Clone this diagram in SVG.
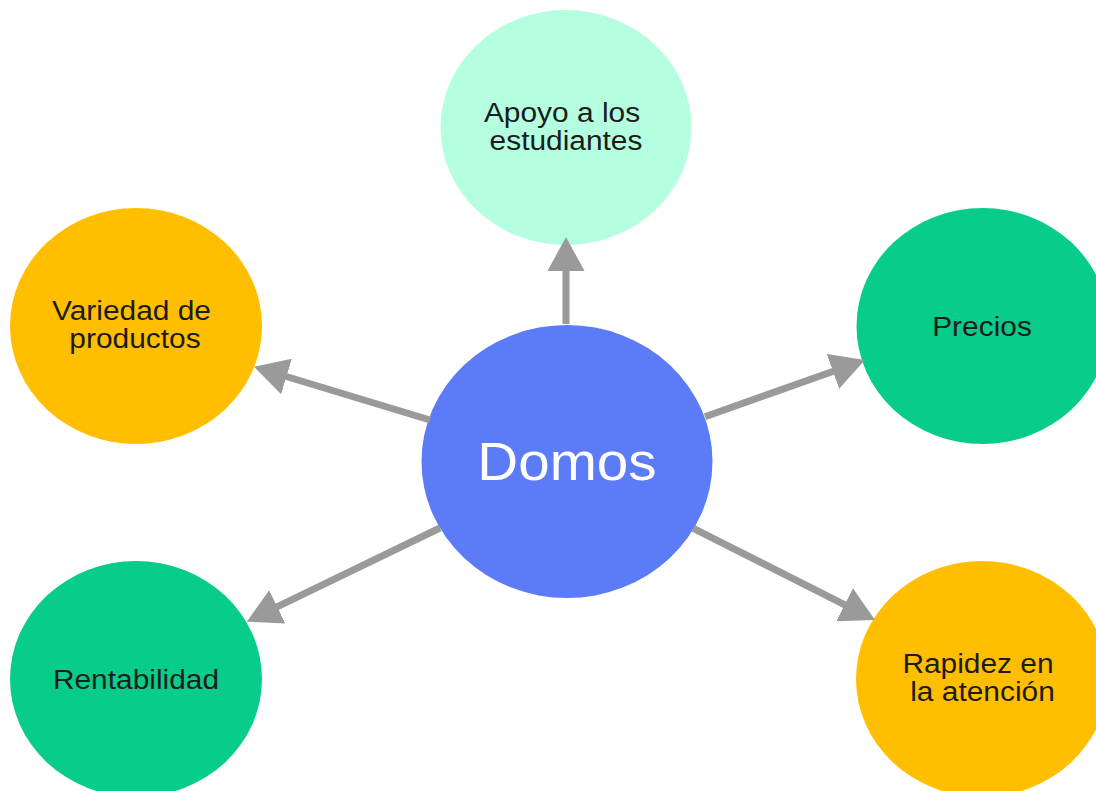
<svg xmlns="http://www.w3.org/2000/svg" width="1096" height="791" viewBox="0 0 1096 791">
<style>
  .lbl { font-family: "Liberation Sans", Arial, sans-serif; font-size: 28px; fill: #1c1c1c; text-anchor: middle; }
  .main { font-family: "Liberation Sans", Arial, sans-serif; font-size: 53px; fill: #ffffff; text-anchor: middle; }
  .conn { stroke: #9a9a9a; stroke-width: 7; fill: none; marker-end: url(#arrow); }
</style>
<defs>
  <marker id="arrow" markerUnits="userSpaceOnUse" viewBox="0 0 34 37" markerWidth="34" markerHeight="37" refX="2" refY="18.5" orient="auto">
    <path d="M0,0 L34,18.5 L0,37 Z" fill="#9a9a9a"/>
  </marker>
</defs>
<rect width="1096" height="791" fill="#ffffff"/>
<g id="node-domos">
  <ellipse cx="567" cy="461.5" rx="145.5" ry="136.5" fill="#5b7bf7"/>
  <text class="main" transform="translate(567 480) scale(1.068 1)">Domos</text>
</g>
<g id="node-apoyo">
  <ellipse cx="566" cy="127.5" rx="125.5" ry="117.5" fill="#b3ffdf"/>
  <text class="lbl" transform="translate(562 121.5) scale(1.068 1)">Apoyo a los</text>
  <text class="lbl" transform="translate(566 150) scale(1.068 1)">estudiantes</text>
</g>
<g id="node-variedad">
  <ellipse cx="136" cy="326" rx="126" ry="118" fill="#ffbf00"/>
  <text class="lbl" transform="translate(131.5 319.5) scale(1.068 1)">Variedad de</text>
  <text class="lbl" transform="translate(135 348) scale(1.068 1)">productos</text>
</g>
<g id="node-precios">
  <ellipse cx="982.5" cy="326" rx="126" ry="118" fill="#08cc8a"/>
  <text class="lbl" transform="translate(982 335.5) scale(1.068 1)">Precios</text>
</g>
<g id="node-rentabilidad">
  <ellipse cx="136" cy="679" rx="126" ry="118" fill="#08cc8a"/>
  <text class="lbl" transform="translate(136 688.5) scale(1.068 1)">Rentabilidad</text>
</g>
<g id="node-rapidez">
  <ellipse cx="982" cy="679" rx="126" ry="118" fill="#ffbf00"/>
  <text class="lbl" transform="translate(978 672.5) scale(1.068 1)">Rapidez en</text>
  <text class="lbl" transform="translate(982.5 701) scale(1.068 1)">la atención</text>
</g>
<g id="connectors">
  <line class="conn" x1="566" y1="324" x2="566" y2="269"/>
  <line class="conn" x1="430" y1="420" x2="284.6" y2="376"/>
  <line class="conn" x1="705" y1="416.7" x2="834.8" y2="370.7"/>
  <line class="conn" x1="440" y1="528" x2="275.5" y2="607.7"/>
  <line class="conn" x1="693.3" y1="528.3" x2="846.4" y2="605.6"/>
</g>
</svg>
